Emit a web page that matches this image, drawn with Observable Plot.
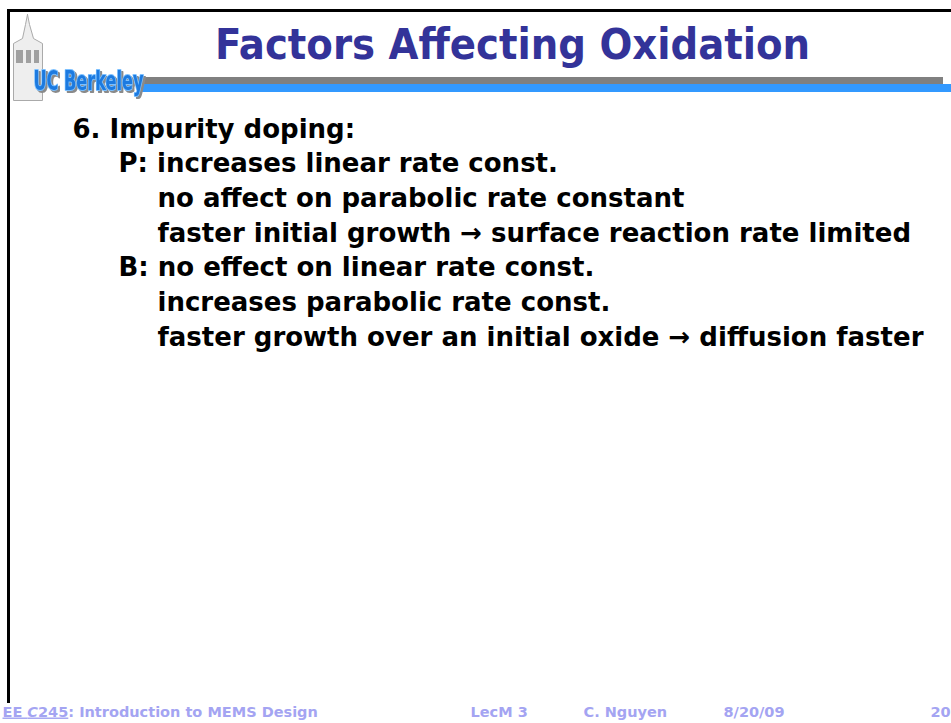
<!DOCTYPE html>
<html><head><meta charset="utf-8">
<script src="https://cdn.jsdelivr.net/npm/d3@7"></script>
<script src="https://cdn.jsdelivr.net/npm/@observablehq/plot@0.6"></script>
<style>
html,body{margin:0;padding:0;background:#fff;overflow:hidden;}
svg{display:block;}
</style></head><body><div id="chart"></div>
<script>
// ---- content ----
const titleText = "Factors Affecting Oxidation";
const bodyLines = [
  "6. Impurity doping:",
  "P: increases linear rate const.",
  "no affect on parabolic rate constant",
  "faster initial growth \u2192 surface reaction rate limited",
  "B: no effect on linear rate const.",
  "increases parabolic rate const.",
  "faster growth over an initial oxide \u2192 diffusion faster"
];
const bodyLevels = [0, 1, 2, 2, 1, 2, 2];
const footerItems = ["EE C245: Introduction to MEMS Design", "LecM 3", "C. Nguyen", "8/20/09", "20"];
const footerUnderlined = "EE C245";
const logoText = "UC Berkeley";
// campanile silhouette (logo decoration)
const towerOutline = [[27,14],[25,24],[22,38],[13,43],[13,100],[42,100],[42,43],[33,38],[29,24],[27,14]];
const towerWindows = [[16,50,23,63],[26,50,31,63],[34,50,39,63]];

// ---- layout (code, not data) ----
const W = 951, H = 723;
const levelX = [72, 118, 157];
const firstBaseline = 137, lineStep = 34.7;
const footerX = [2, 470, 583, 723, 930];
const bodyFont = "'DejaVu Sans', sans-serif";
const titleFont = "'DejaVu Sans Condensed', 'DejaVu Sans', sans-serif";
const footerColor = "#a4a4f2";

const body = bodyLines.map((t, i) => ({t, level: bodyLevels[i], row: i}));
const footer = footerItems.map((t, i) => ({t, i}));

const chart = Plot.plot({
  width: W, height: H,
  margin: 0,
  x: {domain: [0, W], range: [0, W], axis: null},
  y: {domain: [0, H], range: [0, H], axis: null},
  style: {background: "#fff"},
  marks: [
    // frame
    Plot.ruleY([10], {x1: 7, x2: W, stroke: "#000", strokeWidth: 3}),
    Plot.ruleX([8], {y1: 9, y2: 703, stroke: "#000", strokeWidth: 3}),
    // header bars
    Plot.rect([0], {x1: 138, x2: 943, y1: 77, y2: 84, fill: "#808080"}),
    Plot.rect([0], {x1: 138, x2: W, y1: 84, y2: 92, fill: "#3399ff"}),
    // tower
    Plot.line(towerOutline, {x: d => d[0], y: d => d[1], fill: "#eeeeee", stroke: "#aaaaaa", strokeWidth: 1}),
    Plot.rect(towerWindows, {x1: d => d[0], y1: d => d[1], x2: d => d[2], y2: d => d[3], fill: "#a0a0a0"}),
    // logo text
    Plot.text([logoText], {x: 33, y: 89, text: d => d, textAnchor: "start", lineAnchor: "bottom",
      fontFamily: titleFont, fontWeight: "bold", fontSize: 26,
      fill: "#1c7ae0", stroke: "#7cc0ff", strokeWidth: 2, paintOrder: "stroke"}),
    // title
    Plot.text([titleText], {x: 512, y: 58, text: d => d, textAnchor: "middle", lineAnchor: "bottom",
      fontFamily: titleFont, fontWeight: "bold", fontSize: 43, fill: "#333399"}),
    // body
    Plot.text(body, {x: d => levelX[d.level], y: d => firstBaseline + d.row * lineStep, text: "t",
      textAnchor: "start", lineAnchor: "bottom",
      fontFamily: bodyFont, fontWeight: "bold", fontSize: 26, fill: "#000"}),
    // footer
    Plot.text(footer, {x: d => footerX[d.i], y: 716, text: "t", textAnchor: "start", lineAnchor: "bottom",
      fontFamily: bodyFont, fontWeight: "bold", fontSize: 14.5, fill: footerColor})
  ]
});
document.getElementById("chart").appendChild(chart);

// post-process: squeeze + shadow logo text, underline course code in footer
chart.querySelectorAll("text").forEach(t => {
  if (t.textContent === logoText) {
    t.setAttribute("textLength", 110);
    t.setAttribute("lengthAdjust", "spacingAndGlyphs");
    t.style.filter = "drop-shadow(2px 2px 0px #8a8a8a)";
  }
  if (t.textContent === footerItems[0]) {
    const rest = footerItems[0].slice(footerUnderlined.length);
    while (t.firstChild) t.removeChild(t.firstChild);
    const ns = "http://www.w3.org/2000/svg";
    const parts = [["EE ", "normal", true], ["C", "italic", true], ["245", "normal", true], [rest, "normal", false]];
    parts.forEach(([s, fs, u]) => {
      const sp = document.createElementNS(ns, "tspan");
      sp.textContent = s;
      sp.setAttribute("font-style", fs);
      if (u) sp.setAttribute("text-decoration", "underline");
      t.appendChild(sp);
    });
  }
});
</script>
</body></html>
